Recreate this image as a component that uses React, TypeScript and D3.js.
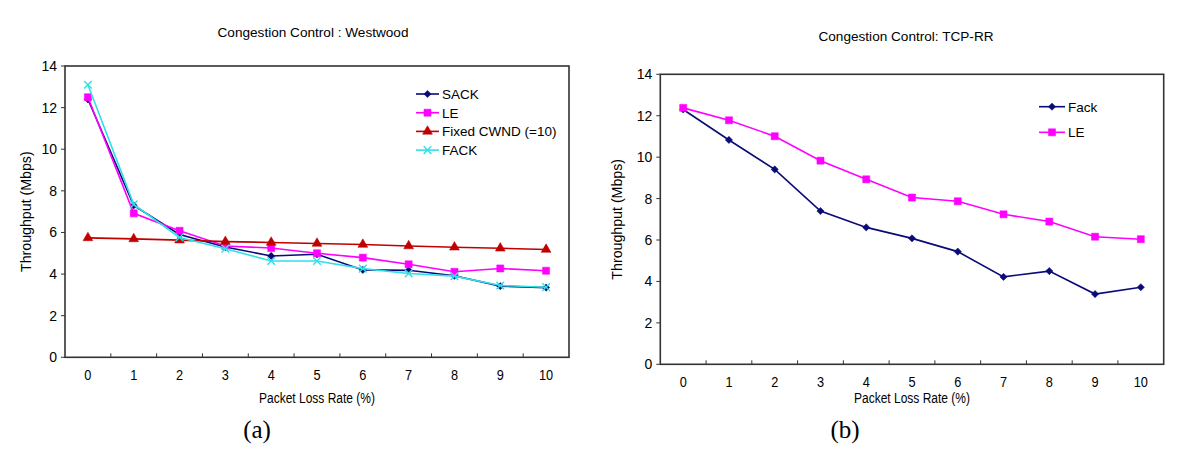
import React, { useEffect, useRef } from 'react';
import * as d3 from 'd3';

// packet loss rate categories (%)
const lossRates = ['0', '1', '2', '3', '4', '5', '6', '7', '8', '9', '10'];
const yTicks = [0, 2, 4, 6, 8, 10, 12, 14];

// (a) Westwood
const westwoodSack = [12.4, 7.3, 5.9, 5.3, 4.87, 4.95, 4.2, 4.18, 3.92, 3.42, 3.35];
const westwoodLe = [12.5, 6.92, 6.08, 5.35, 5.25, 5.0, 4.79, 4.47, 4.11, 4.27, 4.16];
const westwoodFixed = [5.74, 5.69, 5.63, 5.56, 5.52, 5.47, 5.42, 5.35, 5.29, 5.24, 5.18];
const westwoodFack = [13.1, 7.35, 5.76, 5.22, 4.63, 4.63, 4.26, 4.03, 3.9, 3.45, 3.37];

// (b) TCP-RR
const tcpRrFack = [12.3, 10.83, 9.41, 7.4, 6.61, 6.08, 5.44, 4.22, 4.5, 3.39, 3.72];
const tcpRrLe = [12.38, 11.78, 11.01, 9.83, 8.93, 8.05, 7.87, 7.24, 6.89, 6.16, 6.04];

const SANS = '"Liberation Sans", Arial, sans-serif';
const SERIF = '"Liberation Serif", "DejaVu Serif", serif';

const NAVY = '#0a0a78';
const MAGENTA = '#ff00ff';
const DARKRED = '#c00000';
const CYAN = '#30e0e6';

// diamond is a square turned 45deg so it is as wide as it is tall
const markers = {
    diamond: { type: d3.symbolSquare, size: 26, fill: true, rotate: 45 },
    square: { type: d3.symbolSquare, size: 50, fill: true, rotate: 0 },
    triangle: { type: d3.symbolTriangle, size: 42, fill: true, rotate: 0 },
    x: { type: d3.symbolTimes, size: 40, fill: false, rotate: 0 },
};

const panels = [
    {
        key: 'a',
        title: 'Congestion Control : Westwood',
        titleX: 313, titleY: 37,
        box: { left: 65, right: 569, top: 66, bottom: 357.3 },
        yLabelX: 26,
        xTitleY: 403, captionX: 257, caption: '(a)',
        legend: { x: 416, y: 94, gap: 18.7, lineW: 23 },
        series: [
            { name: 'SACK', values: westwoodSack, color: NAVY, marker: 'diamond' },
            { name: 'LE', values: westwoodLe, color: MAGENTA, marker: 'square' },
            { name: 'Fixed CWND (=10)', values: westwoodFixed, color: DARKRED, marker: 'triangle' },
            { name: 'FACK', values: westwoodFack, color: CYAN, marker: 'x' },
        ],
    },
    {
        key: 'b',
        title: 'Congestion Control: TCP-RR',
        titleX: 906, titleY: 41,
        box: { left: 660.3, right: 1163.7, top: 74.3, bottom: 364.3 },
        yLabelX: 617,
        xTitleY: 403, captionX: 845, caption: '(b)',
        legend: { x: 1039, y: 106.7, gap: 25.6, lineW: 26 },
        series: [
            { name: 'Fack', values: tcpRrFack, color: NAVY, marker: 'diamond' },
            { name: 'LE', values: tcpRrLe, color: MAGENTA, marker: 'square' },
        ],
    },
];

function markerPath(m) {
    return d3.symbol().type(m.type).size(m.size)();
}

function drawPanel(svg, p) {
    const g = svg.append('g').attr('class', 'panel_' + p.key);
    const { left, right, top, bottom } = p.box;

    const x = d3.scaleBand().domain(lossRates).range([left, right]).padding(0);
    const y = d3.scaleLinear().domain([0, 14]).range([bottom, top]);
    const cx = (c) => x(c) + x.bandwidth() / 2;

    // title
    g.append('text')
        .attr('x', p.titleX).attr('y', p.titleY)
        .attr('text-anchor', 'middle')
        .style('font-family', SANS).style('font-size', '13.6px')
        .text(p.title);

    // plot frame
    g.append('rect')
        .attr('x', left).attr('y', top)
        .attr('width', right - left).attr('height', bottom - top)
        .attr('fill', 'none').attr('stroke', '#333').attr('stroke-width', 1.6);

    // y ticks + labels
    yTicks.forEach((t) => {
        g.append('line')
            .attr('x1', left - 4).attr('x2', left)
            .attr('y1', y(t)).attr('y2', y(t))
            .attr('stroke', '#333');
        g.append('text')
            .attr('x', left - 8).attr('y', y(t) + 5)
            .attr('text-anchor', 'end')
            .style('font-family', SANS).style('font-size', '14px')
            .text(t);
    });

    // x ticks between categories, pointing inwards
    lossRates.slice(1).forEach((c) => {
        g.append('line')
            .attr('x1', x(c)).attr('x2', x(c))
            .attr('y1', bottom).attr('y2', bottom - 4)
            .attr('stroke', '#333');
    });
    lossRates.forEach((c) => {
        g.append('text')
            .attr('transform', `translate(${cx(c)},${bottom + 23}) scale(0.88,1)`)
            .attr('text-anchor', 'middle')
            .style('font-family', SANS).style('font-size', '14.5px')
            .text(c);
    });

    // axis titles
    g.append('text')
        .attr('transform', `translate(${p.yLabelX},${(top + bottom) / 2}) rotate(-90)`)
        .attr('y', 5)
        .attr('text-anchor', 'middle')
        .style('font-family', SANS).style('font-size', '14.2px')
        .text('Throughput (Mbps)');
    const mid = (left + right) / 2;
    g.append('text')
        .attr('x', mid).attr('y', p.xTitleY)
        .attr('text-anchor', 'middle')
        .attr('textLength', 116).attr('lengthAdjust', 'spacingAndGlyphs')
        .style('font-family', SANS).style('font-size', '14px')
        .text('Packet Loss Rate (%)');

    // caption
    g.append('text')
        .attr('x', p.captionX).attr('y', 438)
        .attr('text-anchor', 'middle')
        .style('font-family', SERIF).style('font-size', '25px')
        .text(p.caption);

    const line = d3.line()
        .x((d, i) => cx(lossRates[i]))
        .y((d) => y(d));

    p.series.forEach((s) => {
        const m = markers[s.marker];
        const sg = g.append('g');
        sg.append('path')
            .attr('d', line(s.values))
            .attr('fill', 'none')
            .attr('stroke', s.color)
            .attr('stroke-width', 1.6);
        sg.selectAll('.pt').data(s.values).enter().append('path')
            .attr('class', 'pt')
            .attr('transform', (d, i) => `translate(${cx(lossRates[i])},${y(d)}) rotate(${m.rotate})`)
            .attr('d', markerPath(m))
            .attr('fill', m.fill ? s.color : 'none')
            .attr('stroke', s.color)
            .attr('stroke-width', m.fill ? 0.5 : 1.4);
    });

    // legend
    p.series.forEach((s, i) => {
        const m = markers[s.marker];
        const ly = p.legend.y + i * p.legend.gap;
        const lx = p.legend.x;
        g.append('line')
            .attr('x1', lx).attr('x2', lx + p.legend.lineW)
            .attr('y1', ly).attr('y2', ly)
            .attr('stroke', s.color).attr('stroke-width', 1.6);
        g.append('path')
            .attr('transform', `translate(${lx + p.legend.lineW / 2},${ly}) rotate(${m.rotate})`)
            .attr('d', markerPath(m))
            .attr('fill', m.fill ? s.color : 'none')
            .attr('stroke', s.color)
            .attr('stroke-width', m.fill ? 0.5 : 1.4);
        g.append('text')
            .attr('x', lx + p.legend.lineW + 3).attr('y', ly + 5)
            .style('font-family', SANS).style('font-size', '13.5px')
            .text(s.name);
    });
}

const App = () => {
    const anchor = useRef(null);

    useEffect(() => {
        const svg = d3.select(anchor.current);
        svg.selectAll('*').remove();
        svg.append('rect').attr('width', 1200).attr('height', 457).attr('fill', 'white');
        panels.forEach((p) => drawPanel(svg, p));
    }, []);

    return (
        <svg
            ref={anchor}
            width={1200}
            height={457}
            style={{ position: 'absolute', left: 0, top: 0, display: 'block' }}
        />
    );
};

export default App;
